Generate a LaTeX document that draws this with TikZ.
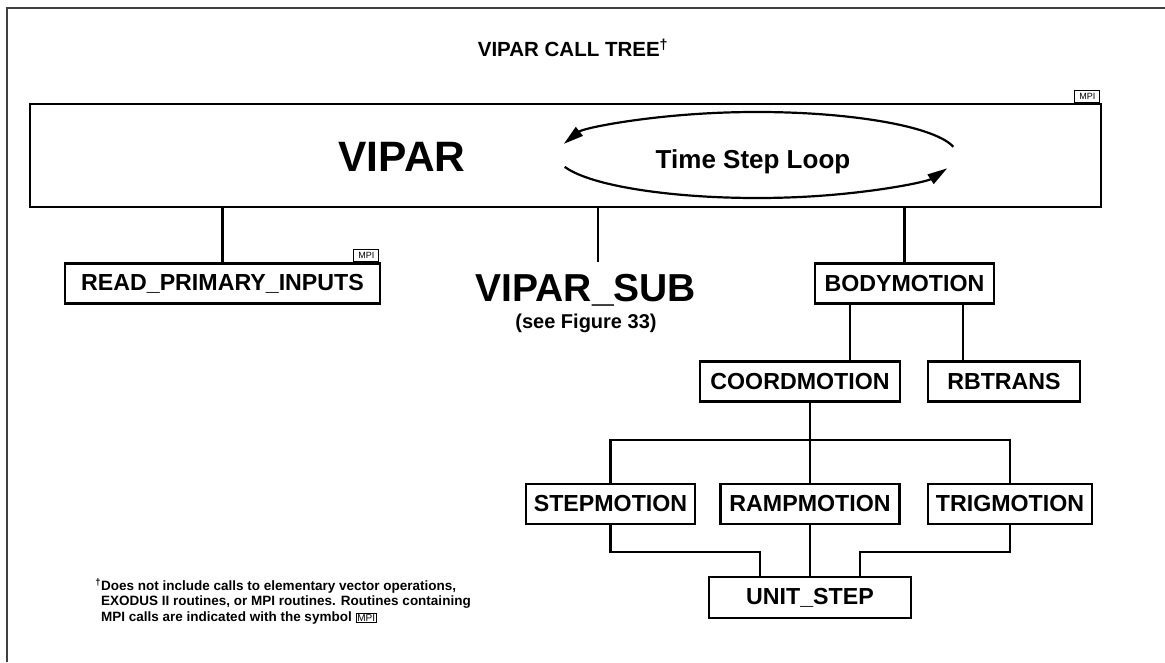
\documentclass[tikz,border=0pt]{standalone}
\usepackage{fontspec}
\setmainfont{Liberation Sans}
\usetikzlibrary{positioning,arrows.meta}

\newcommand{\mpisym}{{\setlength{\fboxsep}{1pt}\setlength{\fboxrule}{0.8pt}\fbox{\normalfont\fontsize{10}{10}\selectfont MPI}}}

\tikzset{
  callbox/.style={draw,line width=2.4pt,font=\bfseries\fontsize{23.2}{26}\selectfont,
    minimum height=40pt,inner xsep=8pt},
  mpitag/.style={draw,line width=0.8pt,font=\fontsize{9}{9}\selectfont,inner sep=1pt,
    minimum width=25pt,minimum height=12pt},
  wire/.style={line width=2.4pt},
}

\begin{document}
\begin{tikzpicture}[x=1pt,y=1pt,node distance=76pt,on grid]
\useasboundingbox (0,0) rectangle (1165,662);
% Here is the page frame and the title
   \draw[line width=2pt,black!75] (1165,654) -- (7,654) -- (7,0);
   \node (title) at (573,614) {\bfseries\fontsize{20.5}{24}\selectfont VIPAR CALL TREE\textsuperscript{†}};
% Here is the main routine with its time step loop
   \node[draw,line width=2.4pt,minimum width=1071pt,minimum height=103pt] (vipar) at (565.5,506.5) {};
   \node[mpitag,anchor=south east] (viparmpi) at ([xshift=-2pt]vipar.north east) {MPI};
   \node[font=\bfseries\fontsize{42.5}{46}\selectfont] (viparname) at (402,505) {VIPAR};
   \node[font=\bfseries\fontsize{26}{30}\selectfont] (loop) at (753,500) {Time Step Loop};
   \coordinate (loopc) at (757,507);
   \draw[line width=2.2pt,-{Triangle[length=20pt,width=11pt]}]
     ([shift={(11:200 and 43)}]loopc) arc[start angle=11,end angle=165,x radius=200,y radius=43];
   \draw[line width=2.2pt,-{Triangle[length=20pt,width=11pt]}]
     ([shift={(196:200 and 43)}]loopc) arc[start angle=196,end angle=342,x radius=200,y radius=43];
% Here is where we place each routine in relation to the others
   \node[callbox,minimum width=315pt] (read) at (222.5,378.5) {READ\_PRIMARY\_INPUTS};
   \node[mpitag,anchor=south east] (readmpi) at ([xshift=-2pt]read.north east) {MPI};
   \node[font=\bfseries\fontsize{39}{42}\selectfont] (sub) at (586,372) {VIPAR\_SUB};
   \node[font=\bfseries\fontsize{20}{23}\selectfont] (see) [below=33pt of sub] {(see Figure 33)};
   \coordinate (subtop) at (598,400);
   \node[callbox,minimum width=179pt] (body) at (904.5,378.5) {BODYMOTION};
   \node[callbox,minimum width=200pt] (coord) at (800,280.5) {COORDMOTION};
   \node[callbox,minimum width=152pt] (rbtrans) [right=204pt of coord] {RBTRANS};
   \node[callbox,minimum width=179pt] (ramp) at (810,158) {RAMPMOTION};
   \node[callbox,minimum width=169pt] (step) [left=199.5pt of ramp] {STEPMOTION};
   \node[callbox,minimum width=164pt] (trig) [right=200pt of ramp] {TRIGMOTION};
   \node[callbox,minimum width=202pt,minimum height=41pt] (unit) [below=93.5pt of ramp] {UNIT\_STEP};
   \coordinate (bus) at (810,222);
% Here is where we draw the calls between the routines
   \draw[wire] (read.north) -- (read.north |- vipar.south);
   \draw[wire] (vipar.south -| subtop) -- (subtop);
   \draw[wire] (body.north) -- (body.north |- vipar.south);
   \draw[wire] ([xshift=-54.5pt]body.south) -- ([xshift=-54.5pt]body.south |- coord.north);
   \draw[wire] ([xshift=58.5pt]body.south) -- ([xshift=58.5pt]body.south |- rbtrans.north);
   \draw[wire] (coord.south -| ramp.north) -- (ramp.north);
   \draw[wire] (step.north) |- (bus) -| (trig.north);
   \draw[wire] (step.south) -- ++(0,-27) -| ([xshift=-50pt]unit.north);
   \draw[wire] (ramp.south) -- (unit.north);
   \draw[wire] (trig.south) -- ++(0,-27) -| ([xshift=50pt]unit.north);
% Here is the footnote
   \node[anchor=north west,align=left,inner sep=0pt,font=\bfseries\fontsize{13.5}{15.5}\selectfont] (note) at (101,84)
     {\llap{\textsuperscript{†}}Does not include calls to elementary vector operations,\\
      EXODUS II routines, or MPI routines. Routines containing\\
      MPI calls are indicated with the symbol \mpisym};
\end{tikzpicture}
\end{document}
